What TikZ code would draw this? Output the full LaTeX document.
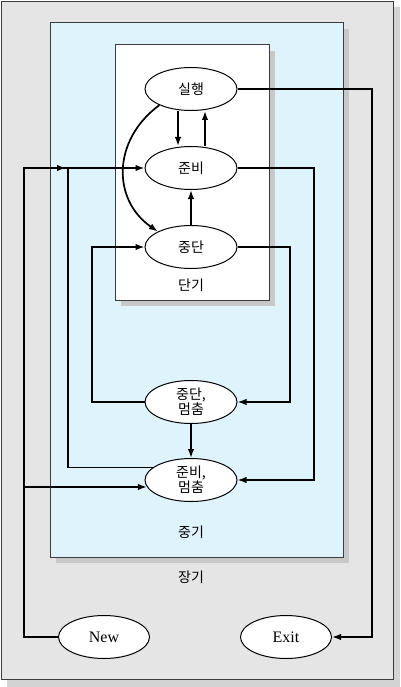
\documentclass[tikz,border=0pt]{standalone}
\usepackage{fontspec}
\setmainfont{Liberation Serif}
\newfontfamily\kr{Noto Sans CJK KR}
\usetikzlibrary{arrows.meta,shapes.geometric}
\definecolor{outerfill}{RGB}{229,229,229}
\definecolor{midfill}{RGB}{222,243,252}
\definecolor{shadowc}{RGB}{200,200,200}
\definecolor{framec}{RGB}{60,60,60}
\tikzset{
  state/.style={ellipse,draw=black,line width=1pt,fill=white,minimum width=92pt,minimum height=43pt,inner sep=0pt,align=center,font=\kr\fontsize{14}{15}\selectfont},
  term/.style={ellipse,draw=black,line width=1pt,fill=white,minimum width=91pt,minimum height=43pt,inner sep=0pt,font=\fontsize{16}{18}\selectfont},
  lbl/.style={font=\kr\fontsize{14}{15}\selectfont},
  conn/.style={line width=1.7pt,line join=miter},
  arr/.style={conn,-{Latex[length=9pt,width=6.5pt]}},
  frame/.style={draw=framec,line width=1pt}
}
\begin{document}
\begin{tikzpicture}[x=1pt,y=-1pt]
\useasboundingbox (0,0) rectangle (400,687);
% outer box
\fill[shadowc!80] (7,7) rectangle (400,687);
\filldraw[frame,fill=outerfill] (1.5,1.5) rectangle (393,679);
% medium box
\fill[shadowc] (56,29) rectangle (349,563);
\filldraw[frame,fill=midfill] (50,23) rectangle (343,557);
% short box
\fill[shadowc] (121,51) rectangle (275,306);
\filldraw[frame,fill=white] (115,45) rectangle (269,300);

% states
\node[state] (run) at (191,89) {실행};
\node[state] (ready) at (191,168) {준비};
\node[state] (hold) at (191,247) {중단};
\node[lbl] (short) at (191,285) {단기};
\node[state] (hs) at (191,402) {중단,\\멈춤};
\node[state] (rs) at (191,480) {준비,\\멈춤};
\node[lbl] (mid) at (191,532) {중기};
\node[lbl] (long) at (191,577) {장기};
\node[term] (new) at (104,637) {New};
\node[term] (exit) at (286,637) {Exit};

% helper coordinates
\coordinate (lx) at (24,0);
\coordinate (l2) at (68,0);
\coordinate (l3) at (92,0);
\coordinate (r1) at (290,0);
\coordinate (r2) at (314,0);
\coordinate (rx) at (372,0);
\coordinate (ma) at (66,168);

% inner transitions
\draw[arr] ([xshift=-13pt]run.south) -- ([xshift=-13pt]ready.north);
\draw[arr] ([xshift=14pt]ready.north) -- ([xshift=14pt]run.south);
\draw[arr] (hold.north) -- (ready.south);
\draw[arr] (run.207) .. controls (112,140) and (112,200) .. (hold.155);

% running -> exit
\draw[arr] (run.east) -- (run.east -| rx) -- (rx |- exit.east) -- (exit.east);

% new -> ready, ready-suspend
\draw[arr] (new.west) -- (lx |- new.west) -- (lx |- ready.west) -- (ready.west);
\draw[arr] (lx |- ready.west) -- (ma);
\draw[arr] (lx |- rs.189) -- (rs.189);

% ready-suspend -> ready
\draw[conn] (rs.162) -- (l2 |- rs.162) -- (l2 |- ready.west);

% hold-suspend -> hold
\draw[arr] (hs.west) -- (l3 |- hs.west) -- (l3 |- hold.west) -- (hold.west);

% ready -> ready-suspend
\draw[arr] (ready.east) -- (r2 |- ready.east) -- (r2 |- rs.east) -- (rs.east);

% hold -> hold-suspend
\draw[arr] (hold.east) -- (r1 |- hold.east) -- (r1 |- hs.east) -- (hs.east);

% hold-suspend -> ready-suspend
\draw[arr] (hs.south) -- (rs.north);
\end{tikzpicture}
\end{document}
